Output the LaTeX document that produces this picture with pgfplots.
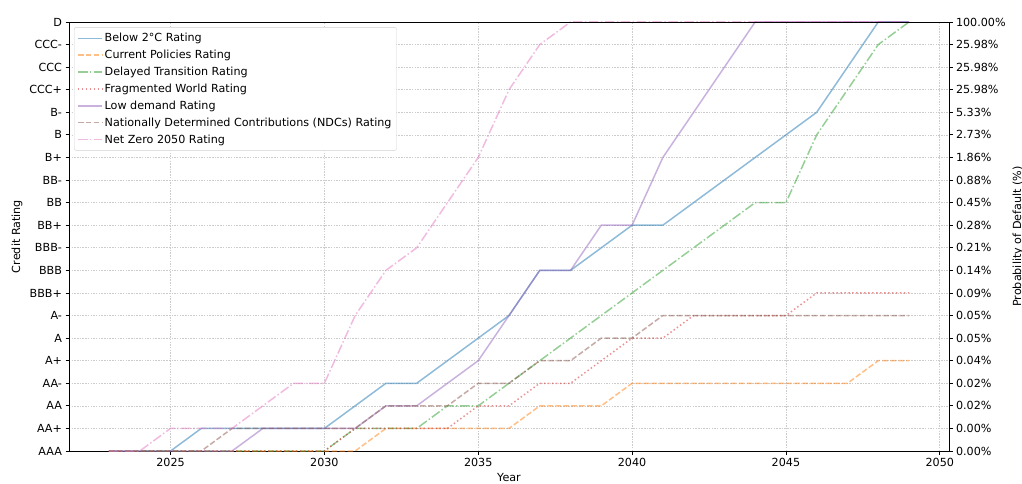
\documentclass[border=0pt]{standalone}
\usepackage{fontspec}
\setmainfont{DejaVu Sans}
\usepackage{pgfplots}
\usepackage{pgfplotstable}
\pgfplotsset{compat=1.18}
\definecolor{tabblue}{HTML}{1F77B4}
\definecolor{taborange}{HTML}{FF7F0E}
\definecolor{tabgreen}{HTML}{2CA02C}
\definecolor{tabred}{HTML}{D62728}
\definecolor{tabpurple}{HTML}{9467BD}
\definecolor{tabbrown}{HTML}{8C564B}
\definecolor{tabpink}{HTML}{E377C2}

\pgfplotstableread{
year below current delayed fragmented lowdemand ndc netzero
2023 0 0 0 0 0 0 0
2024 0 0 0 0 0 0 0
2025 0 0 0 0 0 0 1
2026 1 0 0 0 0 0 1
2027 1 0 0 0 0 1 1
2028 1 0 0 0 1 1 2
2029 1 0 0 0 1 1 3
2030 1 0 0 0 1 1 3
2031 2 0 1 1 1 1 6
2032 3 1 1 1 2 2 8
2033 3 1 1 1 2 2 9
2034 4 1 2 1 3 2 11
2035 5 1 2 2 4 3 13
2036 6 1 3 2 6 3 16
2037 8 2 4 3 8 4 18
2038 8 2 5 3 8 4 19
2039 9 2 6 4 10 5 19
2040 10 3 7 5 10 5 19
2041 10 3 8 5 13 6 19
2042 11 3 9 6 15 6 19
2043 12 3 10 6 17 6 19
2044 13 3 11 6 19 6 19
2045 14 3 11 6 19 6 19
2046 15 3 14 7 19 6 19
2047 17 3 16 7 19 6 19
2048 19 4 18 7 19 6 19
2049 19 4 19 7 19 6 19
}\ratings

\tikzset{
  mpldashed/.style={dash pattern=on 5.55bp off 2.4bp},
  mpldashdot/.style={dash pattern=on 9.6bp off 2.4bp on 1.5bp off 2.4bp},
  mpldotted/.style={dash pattern=on 1.5bp off 2.475bp},
}

\pgfplotsset{
  common/.style={
    scale only axis, width=880bp, height=429bp,
    xmin=2021.7, xmax=2050.3, ymin=0, ymax=19,
    ytick={0,...,19},
    tick align=outside, major tick length=3.5bp,
    every tick/.style={black, line width=0.8bp},
    axis line style={line width=0.8bp},
    tick label style={font=\fontsize{11.2}{13}\selectfont},
    label style={font=\fontsize{11.2}{13}\selectfont},
    /pgf/number format/assume math mode=true,
    /pgf/number format/1000 sep={},
  },
}

\begin{document}
\begin{tikzpicture}
\begin{axis}[common, name=ax,
  axis y line*=left, axis x line*=bottom,
  xtick={2025,2030,...,2050},
  xticklabel style={/pgf/number format/1000 sep={}},
  yticklabels={AAA,AA+,AA,AA-,A+,A,A-,BBB+,BBB,BBB-,BB+,BB,BB-,B+,B,B-,CCC+,CCC,CCC-,D},
  xlabel={Year}, ylabel={Credit Rating},
  grid=major,
  major grid style={gray!40, line width=0.6bp, dash pattern=on 1.5bp off 1.2bp},
  legend cell align=left,
  legend image code/.code={\draw[#1] (0bp,0bp) -- (24bp,0bp);},
  legend style={at={(0.0057,0.988)}, anchor=north west,
    draw=black!18, rounded corners=2bp, fill=white,
    font=\fontsize{11.2}{13}\selectfont,
    inner xsep=3bp, inner ysep=2.5bp,
    nodes={inner ysep=3.45bp}},
  every axis plot/.append style={line width=1.5bp, opacity=0.5},
]
\addplot[tabblue] table[x=year, y=below] {\ratings};
\addlegendentry{Below 2°C Rating}
\addplot[taborange, mpldashed] table[x=year, y=current] {\ratings};
\addlegendentry{Current Policies Rating}
\addplot[tabgreen, mpldashdot] table[x=year, y=delayed] {\ratings};
\addlegendentry{Delayed Transition Rating}
\addplot[tabred, mpldotted] table[x=year, y=fragmented] {\ratings};
\addlegendentry{Fragmented World Rating}
\addplot[tabpurple] table[x=year, y=lowdemand] {\ratings};
\addlegendentry{Low demand Rating}
\addplot[tabbrown, mpldashed] table[x=year, y=ndc] {\ratings};
\addlegendentry{Nationally Determined Contributions (NDCs) Rating}
\addplot[tabpink, mpldashdot] table[x=year, y=netzero] {\ratings};
\addlegendentry{Net Zero 2050 Rating}
\draw[line width=0.8bp] (rel axis cs:0,1) -- (rel axis cs:1,1);
\end{axis}
\begin{axis}[common,
  axis y line*=right, axis x line=none,
  yticklabels={0.00\%,0.00\%,0.02\%,0.02\%,0.04\%,0.05\%,0.05\%,0.09\%,0.14\%,0.21\%,0.28\%,0.45\%,0.88\%,1.86\%,2.73\%,5.33\%,25.98\%,25.98\%,25.98\%,100.00\%},
  ylabel={Probability of Default (\%)},
]
\end{axis}
\pgfresetboundingbox
\path[use as bounding box] ([xshift=-69bp,yshift=-33bp]ax.south west) rectangle ([xshift=73bp,yshift=22bp]ax.north east);
\end{tikzpicture}
\end{document}
